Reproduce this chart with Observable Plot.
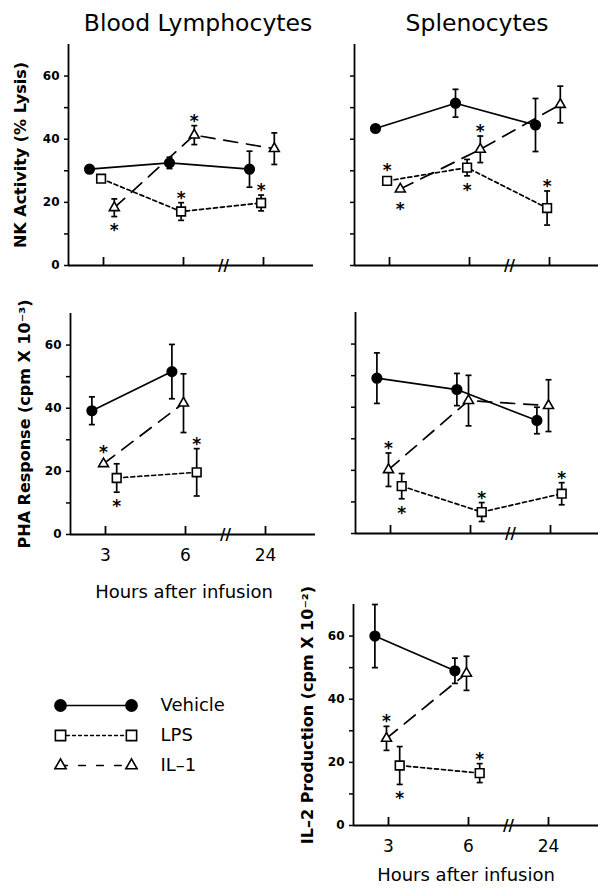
<!DOCTYPE html>
<html>
<head>
<meta charset="utf-8">
<script src="https://cdn.jsdelivr.net/npm/d3@7"></script>
<script src="https://cdn.jsdelivr.net/npm/@observablehq/plot@0.6"></script>
<style>
  html, body { margin: 0; padding: 0; background: #fff; }
  #root { position: relative; width: 598px; height: 890px; overflow: hidden; background: #fff; }
  .abs { position: absolute; white-space: nowrap; color: #000; }
  .title { font-family: "DejaVu Sans", sans-serif; font-size: 23.5px; line-height: 23.5px; transform: translateX(-50%); }
  .xlab { font-family: "DejaVu Sans", sans-serif; font-size: 18px; line-height: 18px; transform: translateX(-50%); }
</style>
</head>
<body>
<div id="root"></div>
<script>
// ---------------- DATA ----------------
const hours = ["3", "6", "24"];
const seriesNames = ["Vehicle", "LPS", "IL–1"];

// NK activity (% lysis) – blood lymphocytes
const nkBloodVehicle   = [30.5, 32.5, 30.5];
const nkBloodVehicleSE = [0, 1.8, 5.7];
const nkBloodLPS       = [27.5, 17.1, 19.8];
const nkBloodLPSSE     = [0, 2.8, 2.5];
const nkBloodLPSSig    = [0, 1, 1];
const nkBloodIL1       = [18.3, 41.3, 37.0];
const nkBloodIL1SE     = [2.8, 3.0, 5.0];
const nkBloodIL1Sig    = [-1, 1, 0];

// NK activity (% lysis) – splenocytes
const nkSpleenVehicle   = [43.4, 51.4, 44.5];
const nkSpleenVehicleSE = [0, 4.4, 8.4];
const nkSpleenLPS       = [26.8, 31.0, 18.2];
const nkSpleenLPSSE     = [0, 2.6, 5.4];
const nkSpleenLPSSig    = [1, -1, 1];
const nkSpleenIL1       = [24.2, 36.8, 51.0];
const nkSpleenIL1SE     = [0, 4.2, 5.8];
const nkSpleenIL1Sig    = [-1, 1, 0];

// PHA response (cpm x 10^-3) – blood lymphocytes
const phaBloodVehicle   = [39.2, 51.6, null];
const phaBloodVehicleSE = [4.4, 8.6, null];
const phaBloodLPS       = [17.9, 19.7, null];
const phaBloodLPSSE     = [4.5, 7.5, null];
const phaBloodLPSSig    = [-1, 1, 0];
const phaBloodIL1       = [22.4, 41.6, null];
const phaBloodIL1SE     = [0, 9.3, null];
const phaBloodIL1Sig    = [1, 0, 0];

// PHA response (cpm x 10^-3) – splenocytes
const phaSpleenVehicle   = [49.2, 45.6, 35.8];
const phaSpleenVehicleSE = [8.0, 5.1, 4.2];
const phaSpleenLPS       = [15.0, 6.8, 12.6];
const phaSpleenLPSSE     = [4.0, 3.0, 3.5];
const phaSpleenLPSSig    = [-1, 1, 1];
const phaSpleenIL1       = [20.2, 42.1, 40.5];
const phaSpleenIL1SE     = [5.3, 8.0, 8.2];
const phaSpleenIL1Sig    = [1, 0, 0];

// IL-2 production (cpm x 10^-2) – splenocytes
const il2SpleenVehicle   = [60.0, 49.0, null];
const il2SpleenVehicleSE = [10.0, 4.0, null];
const il2SpleenLPS       = [19.0, 16.6, null];
const il2SpleenLPSSE     = [6.0, 3.0, null];
const il2SpleenLPSSig    = [-1, 1, 0];
const il2SpleenIL1       = [27.6, 48.2, null];
const il2SpleenIL1SE     = [3.8, 5.4, null];
const il2SpleenIL1Sig    = [1, 0, 0];

const yTicks = [0, 10, 20, 30, 40, 50, 60];

// ---------------- STYLE / LAYOUT ----------------
const root = document.getElementById("root");
const dash = { "Vehicle": null, "LPS": "4,3", "IL–1": "14,9" };
const symbolOf = { "Vehicle": "circle", "LPS": "square", "IL–1": "triangle" };
const rOf = { "Vehicle": 4.8, "LPS": 4.9, "IL–1": 3.7 };
const fillOf = { "Vehicle": "black", "LPS": "white", "IL–1": "white" };
const dodgeTop = { "Vehicle": -0.175, "LPS": -0.03, "IL–1": 0.135 };
const dodgeLow = { "Vehicle": -0.17, "IL–1": -0.025, "LPS": 0.14 };
const capSymbol = { draw(ctx, size) { const w = Math.sqrt(size / Math.PI); ctx.moveTo(-w, 0); ctx.lineTo(w, 0); } };
const boldFont = "DejaVu Sans, Verdana, sans-serif";
const plainFont = "DejaVu Sans, Verdana, sans-serif";

function rowsFor(groups, dodge) {
  const rows = [];
  for (const g of groups) {
    g.mean.forEach((m, i) => {
      if (m == null) return;
      rows.push({ series: g.name, x: i + 1 + dodge[g.name], mean: m, se: g.se[i] || 0, sig: g.sig ? g.sig[i] : 0 });
    });
  }
  return rows;
}

function makePanel(cfg) {
  const plotH = 221, plotW = cfg.plotW || 245;
  const mL = cfg.mL, mT = 12, mR = 0, mB = cfg.xTickLabels ? 40 : 8;
  const x0 = 0.5625, x1 = x0 + plotW / 80;
  const rows = rowsFor(cfg.groups, cfg.dodge);
  const tickIdx = hours.map((h, i) => i + 1);
  const breakAt = [(tickIdx[1] + tickIdx[2]) / 2];
  const marks = [
    Plot.ruleX([x0], { strokeWidth: 1.8 }),
    Plot.ruleY([0], { strokeWidth: 1.8 }),
    Plot.tickX(tickIdx, { x: d => d, insetTop: plotH - 8, strokeWidth: 1.8 }),
    Plot.text(breakAt, { x: d => d, y: 0, text: () => "//", fontFamily: boldFont, fontSize: 15, fontWeight: "bold", dy: 1 }),
    Plot.axisY({ ticks: yTicks, tickSize: 4, tickPadding: 5, strokeWidth: 1.5, label: null,
      tickFormat: d => (cfg.yTickLabels && d % 20 === 0) ? String(d) : "",
      fontFamily: boldFont, fontWeight: "bold", fontSize: 12 }),
    Plot.ruleX(rows.filter(d => d.se > 0), { x: "x", y1: d => d.mean - d.se, y2: d => d.mean + d.se, strokeWidth: 1.7 }),
    Plot.dot(rows.filter(d => d.se > 0), { x: "x", y: d => d.mean + d.se, symbol: capSymbol, r: 3, fill: "none", stroke: "black", strokeWidth: 1.7 }),
    Plot.dot(rows.filter(d => d.se > 0), { x: "x", y: d => d.mean - d.se, symbol: capSymbol, r: 3, fill: "none", stroke: "black", strokeWidth: 1.7 }),
  ];
  for (const name of seriesNames) {
    marks.push(Plot.line(rows.filter(d => d.series === name), { x: "x", y: "mean", stroke: "black", strokeWidth: 1.7, strokeDasharray: dash[name] }));
  }
  for (const name of seriesNames) {
    marks.push(Plot.dot(rows.filter(d => d.series === name), { x: "x", y: "mean", symbol: symbolOf[name], r: rOf[name], fill: fillOf[name], stroke: "black", strokeWidth: 1.6 }));
  }
  marks.push(Plot.text(rows.filter(d => d.sig !== 0), { x: "x", y: d => d.mean + d.sig * (Math.max(d.se, 2) + 3), text: () => "*", fontFamily: boldFont, fontWeight: "bold", fontSize: 17, dy: 5 }));
  if (cfg.xTickLabels) {
    marks.push(Plot.axisX({ ticks: tickIdx, tickSize: 0, tickPadding: 14, label: null, tickFormat: i => hours[i - 1], fontFamily: plainFont, fontSize: 17, fontWeight: "normal" }));
  }
  if (cfg.ylabel) {
    marks.push(Plot.text([cfg.ylabel], { frameAnchor: "left", textAnchor: "middle", lineAnchor: "middle", text: d => d, rotate: -90, dx: -cfg.labelOffset, fontFamily: boldFont, fontWeight: "bold", fontSize: 16 }));
  }
  const svg = Plot.plot({
    width: mL + plotW + mR, height: mT + plotH + mB,
    marginLeft: mL, marginRight: mR, marginTop: mT, marginBottom: mB,
    x: { domain: [x0, x1], axis: cfg.xTickLabels ? undefined : null },
    y: { domain: [0, 70] },
    style: { background: "transparent", color: "black", overflow: "visible" },
    marks
  });
  svg.style.position = "absolute";
  svg.style.left = (cfg.axisX - mL) + "px";
  svg.style.top = (cfg.axisTop - mT) + "px";
  root.appendChild(svg);
}

makePanel({ axisX: 68, axisTop: 44, mL: 68, dodge: dodgeTop, yTickLabels: true, xTickLabels: false,
  ylabel: "NK Activity (% Lysis)", labelOffset: 48,
  groups: [
    { name: "Vehicle", mean: nkBloodVehicle, se: nkBloodVehicleSE },
    { name: "LPS", mean: nkBloodLPS, se: nkBloodLPSSE, sig: nkBloodLPSSig },
    { name: "IL–1", mean: nkBloodIL1, se: nkBloodIL1SE, sig: nkBloodIL1Sig } ] });

makePanel({ axisX: 354, axisTop: 44, mL: 70, plotW: 244, dodge: dodgeTop, yTickLabels: false, xTickLabels: false,
  groups: [
    { name: "Vehicle", mean: nkSpleenVehicle, se: nkSpleenVehicleSE },
    { name: "LPS", mean: nkSpleenLPS, se: nkSpleenLPSSE, sig: nkSpleenLPSSig },
    { name: "IL–1", mean: nkSpleenIL1, se: nkSpleenIL1SE, sig: nkSpleenIL1Sig } ] });

makePanel({ axisX: 70, axisTop: 313, mL: 70, dodge: dodgeLow, yTickLabels: true, xTickLabels: true,
  ylabel: "PHA Response (cpm X 10⁻³)", labelOffset: 46,
  groups: [
    { name: "Vehicle", mean: phaBloodVehicle, se: phaBloodVehicleSE },
    { name: "LPS", mean: phaBloodLPS, se: phaBloodLPSSE, sig: phaBloodLPSSig },
    { name: "IL–1", mean: phaBloodIL1, se: phaBloodIL1SE, sig: phaBloodIL1Sig } ] });

makePanel({ axisX: 355, axisTop: 312, mL: 70, plotW: 243, dodge: dodgeLow, yTickLabels: false, xTickLabels: false,
  groups: [
    { name: "Vehicle", mean: phaSpleenVehicle, se: phaSpleenVehicleSE },
    { name: "LPS", mean: phaSpleenLPS, se: phaSpleenLPSSE, sig: phaSpleenLPSSig },
    { name: "IL–1", mean: phaSpleenIL1, se: phaSpleenIL1SE, sig: phaSpleenIL1Sig } ] });

makePanel({ axisX: 353, axisTop: 604, mL: 70, plotW: 245, dodge: dodgeLow, yTickLabels: true, xTickLabels: true,
  ylabel: "IL–2 Production (cpm X 10⁻²)", labelOffset: 46,
  groups: [
    { name: "Vehicle", mean: il2SpleenVehicle, se: il2SpleenVehicleSE },
    { name: "LPS", mean: il2SpleenLPS, se: il2SpleenLPSSE, sig: il2SpleenLPSSig },
    { name: "IL–1", mean: il2SpleenIL1, se: il2SpleenIL1SE, sig: il2SpleenIL1Sig } ] });

// titles and x labels
function addText(cls, text, x, y) {
  const d = document.createElement("div");
  d.className = "abs " + cls;
  d.textContent = text;
  d.style.left = x + "px";
  d.style.top = y + "px";
  root.appendChild(d);
}
addText("title", "Blood Lymphocytes", 198, 12);
addText("title", "Splenocytes", 477, 12);
addText("xlab", "Hours after infusion", 184, 583);
addText("xlab", "Hours after infusion", 466, 866);

// ---------------- LEGEND ----------------
const legendRows = [];
for (const name of seriesNames) { legendRows.push({ series: name, end: 0 }, { series: name, end: 1 }); }
const legendDash = { "Vehicle": null, "LPS": "3,3", "IL–1": "7,11" };
const legendR = { "Vehicle": 5.6, "LPS": 5.8, "IL–1": 4.2 };
const legendMarks = [];
for (const name of seriesNames) {
  legendMarks.push(Plot.line(legendRows.filter(d => d.series === name), { x: "end", y: "series", stroke: "black", strokeWidth: name === "Vehicle" ? 1.7 : 1.3, strokeDasharray: legendDash[name] }));
}
for (const name of seriesNames) {
  legendMarks.push(Plot.dot(legendRows.filter(d => d.series === name), { x: "end", y: "series", symbol: symbolOf[name], r: legendR[name], fill: fillOf[name], stroke: "black", strokeWidth: 1.6 }));
}
legendMarks.push(Plot.text(seriesNames, { x: () => 1, y: d => d, text: d => d, dx: 29, textAnchor: "start", fontFamily: plainFont, fontSize: 18 }));
const legend = Plot.plot({
  width: 280, height: 150, marginLeft: 60, marginRight: 149, marginTop: 0, marginBottom: 0,
  x: { domain: [0, 1], axis: null },
  y: { type: "point", domain: seriesNames, range: [30, 120], axis: null },
  style: { background: "transparent", color: "black", overflow: "visible" },
  marks: legendMarks
});
legend.style.position = "absolute";
legend.style.left = "0px";
legend.style.top = "660px";
root.appendChild(legend);
</script>
</body>
</html>
